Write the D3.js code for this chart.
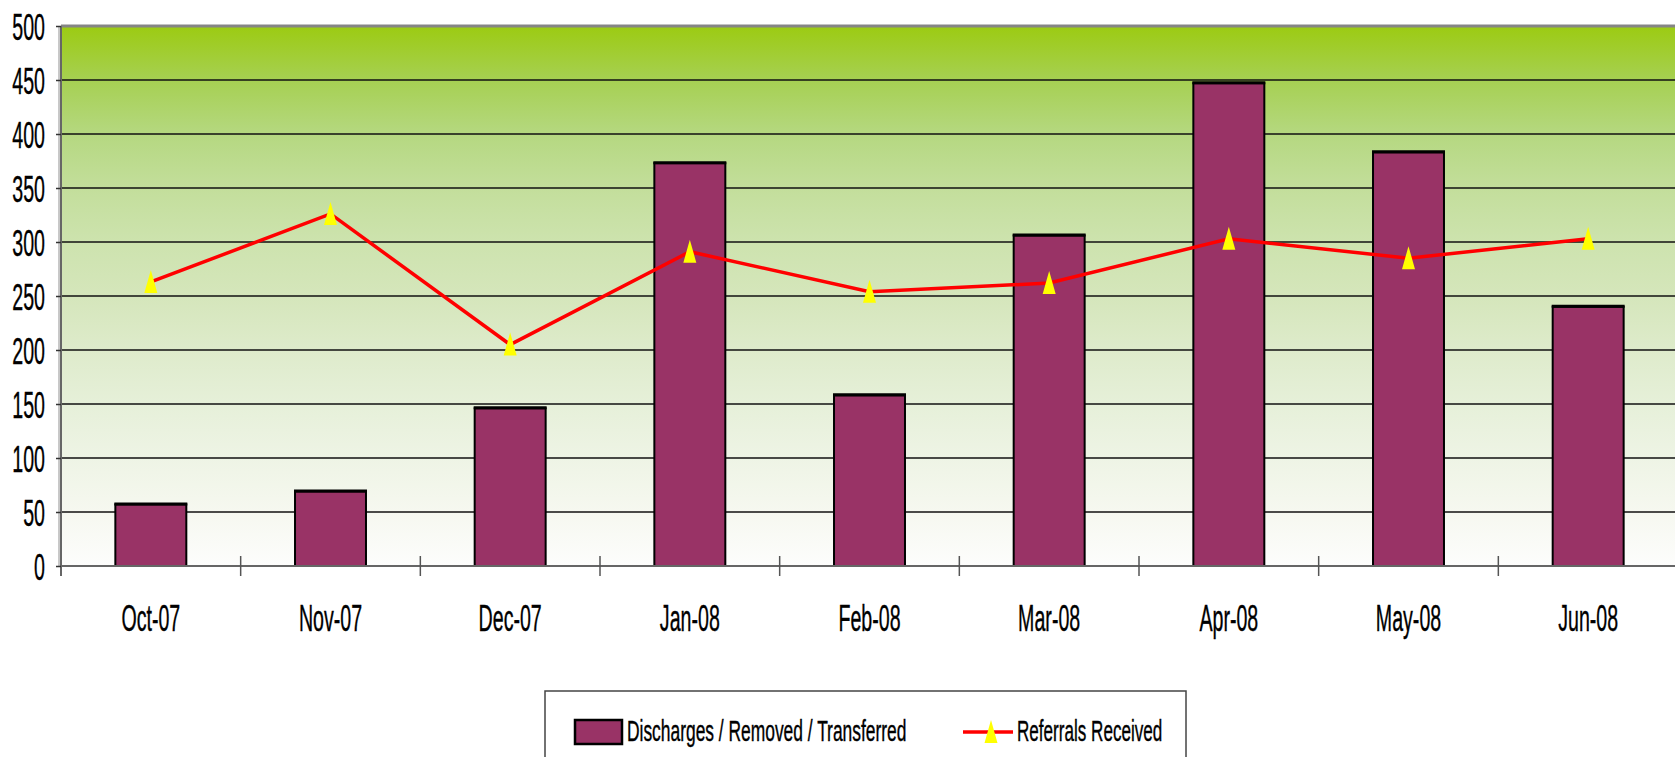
<!DOCTYPE html>
<html>
<head>
<meta charset="utf-8">
<script src="https://cdn.jsdelivr.net/npm/d3@7"></script>
<style>
  body { margin: 0; background: #fff; }
  svg { display: block; }
  text { font-family: "Liberation Sans", Arial, sans-serif; fill: #000; stroke: #000; stroke-width: 0.4; }
</style>
</head>
<body>
<div class="container"></div>
<script>
// datos
const months = ["Oct-07", "Nov-07", "Dec-07", "Jan-08", "Feb-08", "Mar-08", "Apr-08", "May-08", "Jun-08"]
const discharges = [57, 69, 146, 373, 158, 306, 447, 383, 240]
const referrals = [263, 326, 205, 291, 254, 262, 303, 285, 303]
const yTicks = [0, 50, 100, 150, 200, 250, 300, 350, 400, 450, 500]
const seriesNames = ["Discharges / Removed / Transferred", "Referrals Received"]

const width = 1675
const height = 757
const margin = { top: 26, left: 61, bottom: 191 }
const plotRight = 1678
const plotBottom = height - margin.bottom  // 566

const svg = d3.select(".container").append("svg").attr("width", width).attr("height", height)

// degradado del fondo
const defs = svg.append("defs")
const grad = defs.append("linearGradient").attr("id", "bg").attr("x1", 0).attr("y1", 0).attr("x2", 0).attr("y2", 1)
const stops = [[0, "#9ccb12"], [0.1, "#a6d052"], [0.2, "#b5d880"], [0.3, "#c3de9b"], [0.4, "#cde3ae"], [0.5, "#d5e6bb"],
               [0.6, "#deebcb"], [0.7, "#e6f0d9"], [0.8, "#eef4e5"], [0.9, "#f6f8f0"], [1, "#fdfdfc"]]
stops.forEach(s => grad.append("stop").attr("offset", s[0]).attr("stop-color", s[1]))

// escalas
const x = d3.scaleBand().domain(months).range([margin.left, plotRight]).padding(0)
const y = d3.scaleLinear().domain([0, 500]).range([plotBottom, margin.top])

svg.append("rect")
  .attr("x", margin.left).attr("y", margin.top)
  .attr("width", plotRight - margin.left).attr("height", plotBottom - margin.top)
  .attr("fill", "url(#bg)")

// rejilla
svg.append("g").selectAll("line").data(yTicks.filter(d => d > 0 && d < 500)).join("line")
  .attr("x1", margin.left).attr("x2", plotRight)
  .attr("y1", d => y(d)).attr("y2", d => y(d))
  .attr("stroke", "#111").attr("stroke-width", 1.5)

svg.append("line")
  .attr("x1", margin.left).attr("x2", plotRight)
  .attr("y1", y(500)).attr("y2", y(500))
  .attr("stroke", "#858585").attr("stroke-width", 3)

// eje y
const sx = 0.53
svg.append("line").attr("x1", margin.left - 2).attr("x2", margin.left - 2)
  .attr("y1", margin.top).attr("y2", plotBottom).attr("stroke", "#c8c8c8").attr("stroke-width", 2)
const yAxisGroup = svg.append("g").attr("transform", `translate(${margin.left},0)`)
yAxisGroup.call(d3.axisLeft(y).tickValues(yTicks).tickSize(5).tickSizeOuter(0))
yAxisGroup.select(".domain").attr("stroke", "#666").attr("stroke-width", 2).attr("d", `M0,${margin.top}V${plotBottom + 10}`)
yAxisGroup.selectAll(".tick line").attr("stroke", "#333").attr("stroke-width", 1.5)
yAxisGroup.selectAll(".tick text")
  .attr("x", -16 / sx).attr("dy", "0.36em")
  .attr("transform", `scale(${sx},1)`)
  .style("font-size", "37px").style("font-family", "Liberation Sans, Arial, sans-serif").attr("fill", "#000")

// barras
const barW = x.bandwidth() * 0.395
svg.append("g").selectAll("rect").data(discharges).join("rect")
  .attr("x", (d, i) => x(months[i]) + (x.bandwidth() - barW) / 2)
  .attr("y", d => y(d))
  .attr("width", barW)
  .attr("height", d => plotBottom - y(d))
  .attr("fill", "#993366")
  .attr("stroke", "#000").attr("stroke-width", 2)
svg.append("g").selectAll("line").data(discharges).join("line")
  .attr("x1", (d, i) => x(months[i]) + (x.bandwidth() - barW) / 2 - 1)
  .attr("x2", (d, i) => x(months[i]) + (x.bandwidth() + barW) / 2 + 1)
  .attr("y1", d => y(d) - 0.5).attr("y2", d => y(d) - 0.5)
  .attr("stroke", "#000").attr("stroke-width", 3)

// eje x
svg.append("line")
  .attr("x1", margin.left).attr("x2", plotRight)
  .attr("y1", plotBottom).attr("y2", plotBottom)
  .attr("stroke", "#666").attr("stroke-width", 2)
svg.append("g").selectAll("line").data(months.slice(1)).join("line")
  .attr("x1", d => x(d)).attr("x2", d => x(d))
  .attr("y1", plotBottom - 10).attr("y2", plotBottom + 10)
  .attr("stroke", "#555").attr("stroke-width", 1.5)

svg.append("g").selectAll("g").data(months).join("g")
  .attr("transform", d => `translate(${x(d) + x.bandwidth() / 2},631)`)
  .append("text")
  .attr("transform", `scale(${sx},1)`)
  .attr("text-anchor", "middle")
  .style("font-size", "37px")
  .text(d => d)

// linea de referrals
const line = d3.line().x((d, i) => x(months[i]) + x.bandwidth() / 2).y(d => y(d))
svg.append("path").datum(referrals)
  .attr("d", line).attr("fill", "none")
  .attr("stroke", "#ff0000").attr("stroke-width", 3.5)

const tri = "M0,-12L6.5,11L-6.5,11Z"
svg.append("g").selectAll("path").data(referrals).join("path")
  .attr("transform", (d, i) => `translate(${x(months[i]) + x.bandwidth() / 2},${y(d)})`)
  .attr("d", tri).attr("fill", "#ffff00")

// leyenda
const legend = svg.append("g").attr("transform", "translate(545,691)")
legend.append("rect").attr("x", 0).attr("y", 0).attr("width", 641).attr("height", 90)
  .attr("fill", "#fff").attr("stroke", "#444").attr("stroke-width", 1.5)
legend.append("rect").attr("x", 30).attr("y", 29).attr("width", 47).attr("height", 24)
  .attr("fill", "#993366").attr("stroke", "#000").attr("stroke-width", 2.5)
legend.append("g").attr("transform", "translate(82,50)")
  .append("text").attr("transform", "scale(0.58,1)").style("font-size", "30px").text(seriesNames[0])
legend.append("line").attr("x1", 418).attr("x2", 468).attr("y1", 41).attr("y2", 41)
  .attr("stroke", "#ff0000").attr("stroke-width", 3.5)
legend.append("path").attr("transform", "translate(446,41)").attr("d", tri).attr("fill", "#ffff00")
legend.append("g").attr("transform", "translate(472,50)")
  .append("text").attr("transform", "scale(0.57,1)").style("font-size", "30px").text(seriesNames[1])
</script>
</body>
</html>
